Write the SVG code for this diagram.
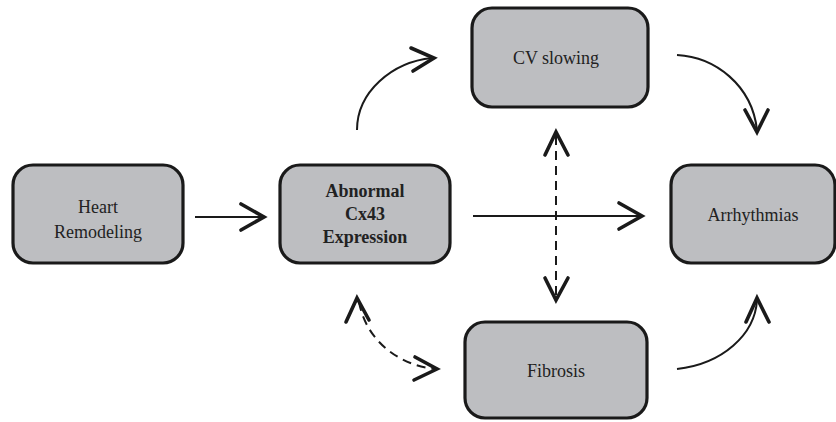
<svg xmlns="http://www.w3.org/2000/svg" width="836" height="422" viewBox="0 0 836 422">
<style>
.box{fill:#bdbec1;stroke:#1a1a1a;stroke-width:3.2}
.t{font-family:"Liberation Serif","Times New Roman",serif;font-size:18px;fill:#222;text-anchor:middle}
.b{font-weight:bold}
.ln{fill:none;stroke:#1a1a1a;stroke-width:2}
.d{stroke-dasharray:9,6}
.ah{fill:none;stroke:#1a1a1a;stroke-width:3.6;stroke-linecap:round;stroke-linejoin:miter}
</style>
<rect width="836" height="422" fill="#fff"/>
<g id="heart">
<rect class="box" x="13" y="165" width="170" height="98" rx="20"/>
<text class="t" x="98" y="213">Heart</text>
<text class="t" x="98" y="238">Remodeling</text>
</g>
<g id="cx43">
<rect class="box" x="280" y="165" width="170" height="98" rx="20"/>
<text class="t b" x="365" y="197">Abnormal</text>
<text class="t b" x="365" y="220">Cx43</text>
<text class="t b" x="365" y="243">Expression</text>
</g>
<g id="cv">
<rect class="box" x="472" y="8" width="176" height="99" rx="20"/>
<text class="t" x="556" y="64">CV slowing</text>
</g>
<g id="fibrosis">
<rect class="box" x="465" y="322" width="182" height="96" rx="20"/>
<text class="t" x="556" y="377">Fibrosis</text>
</g>
<g id="arrhythmias">
<rect class="box" x="671" y="165" width="164" height="98" rx="20"/>
<text class="t" x="753" y="221">Arrhythmias</text>
</g>
<g id="connectors">
<line class="ln" x1="195" y1="217" x2="263" y2="217"/>
<polyline class="ah" points="241,204 264,217 241,230"/>
<line class="ln" x1="473" y1="216" x2="641" y2="216"/>
<polyline class="ah" points="619,203 642,216 619,229"/>
<path class="ln" d="M357,130 C357,92 392,62 432,58"/>
<polyline class="ah" points="411,48 434,58 413,71"/>
<path class="ln" d="M677,55 C715,57 752,85 757,130"/>
<polyline class="ah" points="745,110 757,132 768,110"/>
<path class="ln" d="M677,369 C722,364 755,335 757,300"/>
<polyline class="ah" points="746,322 757,298 769,322"/>
<line class="ln d" x1="556" y1="136" x2="556" y2="297"/>
<polyline class="ah" points="545,155 556,132 568,155"/>
<polyline class="ah" points="545,278 556,300 568,278"/>
<path class="ln d" d="M359,302 C366,340 398,365 435,369"/>
<polyline class="ah" points="346,322 357,298 369,320"/>
<polyline class="ah" points="415,357 437,369 414,380"/>
</g>
</svg>
